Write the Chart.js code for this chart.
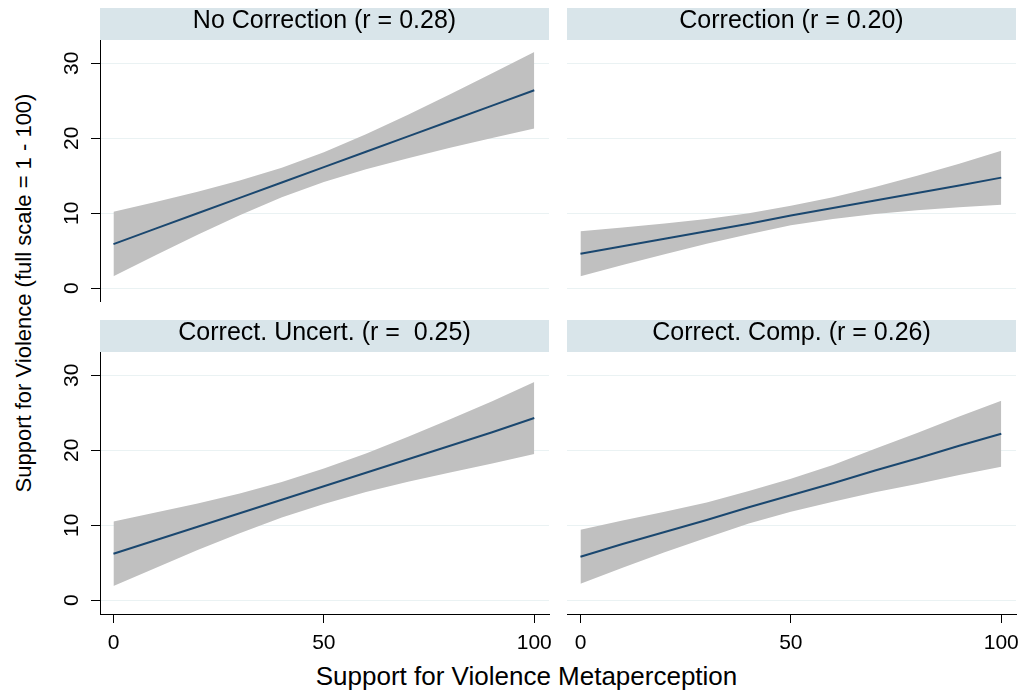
<!DOCTYPE html>
<html>
<head>
<meta charset="utf-8">
<script src="https://cdn.jsdelivr.net/npm/chart.js@4.4.1/dist/chart.umd.min.js"></script>
<style>
  body { margin: 0; background: #fff; }
  #wrap { position: relative; width: 1023px; height: 694px; overflow: hidden;
          font-family: "Liberation Sans", Arial, Helvetica, sans-serif; color: #000; }
  .panel { position: absolute; }
  #xTitle { position: absolute; left: 0; width: 1053px; top: 663px; font-size: 26px;
            line-height: 26px; text-align: center; white-space: pre; }
  #yTitle { position: absolute; left: -226px; width: 500px; top: 282px; font-size: 22px;
            line-height: 22px; text-align: center; white-space: pre; transform: rotate(-90deg); }
</style>
</head>
<body>
<div id="wrap">
  <div class="panel" style="left:40px;top:8px"><canvas id="p0" width="512" height="294"></canvas></div>
  <div class="panel" style="left:555px;top:8px"><canvas id="p1" width="464" height="294"></canvas></div>
  <div class="panel" style="left:40px;top:320px"><canvas id="p2" width="512" height="340"></canvas></div>
  <div class="panel" style="left:555px;top:320px"><canvas id="p3" width="464" height="340"></canvas></div>
  <div id="yTitle">Support for Violence (full scale = 1 - 100)</div>
  <div id="xTitle">Support for Violence Metaperception</div>
</div>
<script>
// x positions of the fitted values (metaperception score)
const metaX = [0, 10, 20, 30, 40, 50, 60, 70, 80, 90, 100];

const panelTitles = ['No Correction (r = 0.28)', 'Correction (r = 0.20)',
                     'Correct. Uncert. (r =  0.25)', 'Correct. Comp. (r = 0.26)'];

// fitted line and 95% CI
const noCorrFit   = [5.9, 7.95, 10.0, 12.05, 14.1, 16.15, 18.2, 20.25, 22.3, 24.35, 26.4];
const noCorrUpper = [10.2, 11.5, 12.88, 14.37, 16.08, 18.13, 20.52, 23.15, 25.88, 28.68, 31.5];
const noCorrLower = [1.6, 4.4, 7.12, 9.73, 12.12, 14.17, 15.88, 17.35, 18.72, 20.02, 21.3];

const corrFit   = [4.6, 5.6, 6.6, 7.6, 8.6, 9.7, 10.7, 11.7, 12.7, 13.7, 14.75];
const corrUpper = [7.6, 8.1, 8.65, 9.25, 10.0, 11.0, 12.15, 13.5, 15.0, 16.6, 18.35];
const corrLower = [1.6, 3.1, 4.55, 5.95, 7.2, 8.4, 9.25, 9.9, 10.4, 10.8, 11.15];

const uncFit   = [6.2, 8.0, 9.8, 11.6, 13.4, 15.2, 17.0, 18.8, 20.6, 22.4, 24.3];
const uncUpper = [10.5, 11.7, 12.9, 14.25, 15.78, 17.56, 19.58, 21.8, 24.15, 26.55, 29.1];
const uncLower = [1.9, 4.3, 6.7, 8.95, 11.02, 12.84, 14.42, 15.8, 17.05, 18.25, 19.5];

const compFit   = [5.8, 7.5, 9.1, 10.7, 12.4, 14.0, 15.6, 17.3, 18.9, 20.6, 22.2];
const compUpper = [9.4, 10.65, 11.8, 13.05, 14.57, 16.2, 18.05, 20.2, 22.3, 24.5, 26.6];
const compLower = [2.2, 4.35, 6.4, 8.35, 10.23, 11.8, 13.15, 14.4, 15.5, 16.7, 17.8];

const xTickValues = [0, 50, 100];
const yTickValues = [0, 10, 20, 30];

const FONT = '"Liberation Sans", Arial, Helvetica, sans-serif';

// strip header above each panel + rotated y tick labels (Stata style)
const stripPlugin = {
    id: 'strip',
    beforeDraw(chart, args, opts) {
        const { ctx, chartArea } = chart;
        ctx.save();
        ctx.fillStyle = '#d9e5ea';
        ctx.fillRect(chartArea.left, chartArea.top - 32, chartArea.right - chartArea.left, 32);
        ctx.fillStyle = '#000';
        ctx.font = '25px ' + FONT;
        ctx.textAlign = 'center';
        ctx.textBaseline = 'alphabetic';
        ctx.fillText(opts.text, (chartArea.left + chartArea.right) / 2, chartArea.top - 12);
        if (opts.yLabels) {
            const yScale = chart.scales.y;
            ctx.font = '21px ' + FONT;
            ctx.textBaseline = 'middle';
            yTickValues.forEach(v => {
                ctx.save();
                ctx.translate(chartArea.left - 27.5, yScale.getPixelForValue(v));
                ctx.rotate(-Math.PI / 2);
                ctx.fillText(String(v), 0, 0);
                ctx.restore();
            });
        }
        ctx.restore();
    }
};

function toPoints(values) {
    return metaX.map((x, i) => ({ x: x, y: values[i] }));
}

function makePanel(canvasId, title, fit, upper, lower, showY, showX) {
    const ctx = document.getElementById(canvasId).getContext('2d');
    return new Chart(ctx, {
        type: 'line',
        data: {
            datasets: [
                { data: toPoints(fit), borderColor: '#1a476f', borderWidth: 1.9, fill: false, order: 0 },
                { data: toPoints(upper), borderWidth: 0, backgroundColor: '#c0c0c0', fill: '+1', order: 1 },
                { data: toPoints(lower), borderWidth: 0, fill: false, order: 2 },
            ],
        },
        options: {
            responsive: false,
            animation: false,
            events: [],
            layout: { autoPadding: false, padding: { top: 32, right: 3, left: 0, bottom: 0 } },
            elements: { point: { radius: 0 }, line: { tension: 0 } },
            plugins: {
                legend: { display: false },
                tooltip: { enabled: false },
                strip: { text: title, yLabels: showY },
            },
            scales: {
                x: {
                    type: 'linear',
                    min: -3.2,
                    max: 103.5,
                    display: showX,
                    afterBuildTicks: s => { s.ticks = xTickValues.map(v => ({ value: v })); },
                    afterFit: s => {
                        s.height = showX ? 46 : 0;
                        s.paddingLeft = 0;
                        s.paddingRight = 0;
                    },
                    grid: { drawOnChartArea: false, drawTicks: true, tickLength: 9, tickColor: '#000' },
                    border: { display: true, color: '#000', width: 1 },
                    ticks: { color: '#000', font: { size: 21, family: FONT }, padding: 8, maxRotation: 0, autoSkip: false },
                },
                y: {
                    type: 'linear',
                    min: -1.83,
                    max: 33.1,
                    afterBuildTicks: s => { s.ticks = yTickValues.map(v => ({ value: v })); },
                    afterFit: s => {
                        s.width = showY ? 60 : 12;
                        s.paddingTop = 0;
                        s.paddingBottom = 0;
                    },
                    grid: { color: '#eaf2f3', lineWidth: 1, drawTicks: showY, tickLength: 9, tickColor: '#000' },
                    border: { display: showY, color: '#000', width: 1 },
                    ticks: { display: false },
                },
            },
        },
        plugins: [stripPlugin],
    });
}

makePanel('p0', panelTitles[0], noCorrFit, noCorrUpper, noCorrLower, true, false);
makePanel('p1', panelTitles[1], corrFit, corrUpper, corrLower, false, false);
makePanel('p2', panelTitles[2], uncFit, uncUpper, uncLower, true, true);
makePanel('p3', panelTitles[3], compFit, compUpper, compLower, false, true);
</script>
</body>
</html>
